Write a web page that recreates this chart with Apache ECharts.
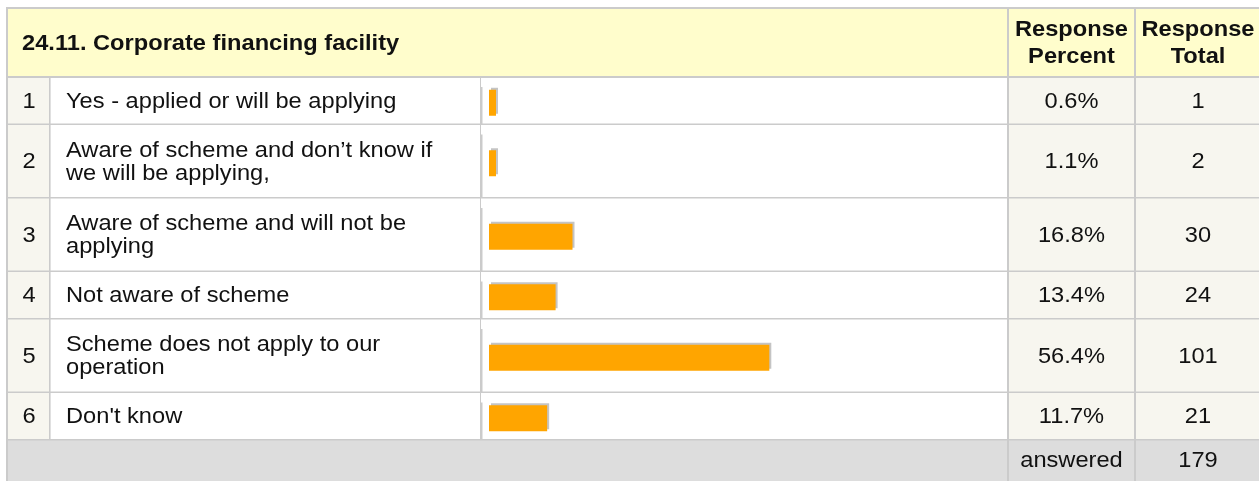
<!DOCTYPE html>
<html>
<head>
<meta charset="utf-8">
<script src="https://cdn.jsdelivr.net/npm/echarts@6/dist/echarts.min.js"></script>
<style>
html,body{margin:0;padding:0;background:#fff;}
#chart{width:1259px;height:481px;}
</style>
</head>
<body>
<div id="chart"></div>
<script>
// ---- data ----
const title = '24.11. Corporate financing facility';
const colHeaders = ['Response\nPercent', 'Response\nTotal'];
const categories = [
  'Yes - applied or will be applying',
  'Aware of scheme and don\u2019t know if\nwe will be applying,',
  'Aware of scheme and will not be\napplying',
  'Not aware of scheme',
  'Scheme does not apply to our\noperation',
  "Don't know"
];
const percents = [0.6, 1.1, 16.8, 13.4, 56.4, 11.7];
const totals = [1, 2, 30, 24, 101, 21];
const answeredLabel = 'answered';
const answeredTotal = 179;

// ---- layout ----
const W = 1259, H = 481;
const tableLeft = 6, tableTop = 7;
const headerBottom = 77;
const oneLineH = 47.5, twoLineH = 73.5;
const colNumR = 50, colLabelR = 481, colBarR = 1008, colPctR = 1135;
const barLeft = 489, barFull = 497;
const FS = 21.5, SX = 1.1;
const FONT = 'Liberation Sans, Arial, sans-serif';
const TXT = '#111';
const BORDER = '#cbcbcb';

const rowTops = [];
let yy = headerBottom;
categories.forEach(c => { rowTops.push(yy); yy += (c.indexOf('\n') >= 0 ? twoLineH : oneLineH); });
const rowBottoms = categories.map((c, i) => i < categories.length - 1 ? rowTops[i + 1] : yy);
const footerTop = yy;

const g = [];
function rect(x, y, w, h, fill, z) {
  g.push({ type: 'rect', silent: true, z: z || 0, shape: { x: x, y: y, width: w, height: h }, style: { fill: fill } });
}
function txt(x, y, s, o) {
  o = o || {};
  g.push({
    type: 'text', silent: true, z: 5, x: x, y: y, scaleX: SX,
    style: {
      text: s, fill: TXT, fontFamily: FONT, fontSize: o.fs || FS,
      fontWeight: o.bold ? 'bold' : 'normal',
      align: o.align || 'left', verticalAlign: 'middle',
      lineHeight: o.lh || 23
    }
  });
}

// backgrounds
rect(tableLeft, tableTop, W - tableLeft, headerBottom - tableTop, '#fffdcc');
rect(tableLeft, headerBottom, colNumR - tableLeft, footerTop - headerBottom, '#f7f6ef');
rect(colNumR, headerBottom, colBarR - colNumR, footerTop - headerBottom, '#ffffff');
rect(colBarR, headerBottom, W - colBarR, footerTop - headerBottom, '#f7f6ef');
rect(tableLeft, footerTop, W - tableLeft, H - footerTop, '#dddddd');

// borders
rect(tableLeft, tableTop, W - tableLeft, 2, BORDER, 1);
rect(tableLeft, tableTop, 2, H - tableTop, BORDER, 1);
rect(tableLeft, headerBottom - 1, W - tableLeft, 2, BORDER, 1);
rowBottoms.forEach(b => rect(tableLeft, b - 1, W - tableLeft, 1.6, BORDER, 1));
rect(colNumR - 1, headerBottom, 1.6, footerTop - headerBottom, BORDER, 1);
rect(colLabelR - 1, headerBottom, 1, footerTop - headerBottom, BORDER, 1);
rowTops.forEach((t, i) => rect(colLabelR, t + 10, 1.5, rowBottoms[i] - t - 10, BORDER, 1));
rect(colBarR - 1, tableTop, 2, H - tableTop, BORDER, 1);
rect(colPctR - 1, tableTop, 2, H - tableTop, BORDER, 1);

// header texts
txt(22, 44, title, { bold: true });
txt((colBarR + colPctR) / 2, 44, colHeaders[0], { bold: true, align: 'center', lh: 27 });
txt((colPctR + W) / 2 + 1, 44, colHeaders[1], { bold: true, align: 'center', lh: 27 });

// row texts
categories.forEach((c, i) => {
  const cy = (rowTops[i] + rowBottoms[i]) / 2 + 1;
  txt((tableLeft + colNumR) / 2 + 1, cy, String(i + 1), { align: 'center' });
  txt(66, cy, c, { lh: 23 });
  txt((colBarR + colPctR) / 2, cy, percents[i].toFixed(1) + '%', { align: 'center' });
  txt((colPctR + W) / 2 + 1, cy, String(totals[i]), { align: 'center' });
});
const fy = (footerTop + H) / 2 + 1;
txt((colBarR + colPctR) / 2, fy, answeredLabel, { align: 'center' });
txt((colPctR + W) / 2 + 1, fy, String(answeredTotal), { align: 'center' });

// bars: one grid per row
const grids = [], xAxes = [], yAxes = [], series = [];
categories.forEach((c, i) => {
  grids.push({ left: barLeft, width: barFull, top: rowTops[i] + 2, height: rowBottoms[i] - rowTops[i], containLabel: false });
  xAxes.push({ type: 'value', gridIndex: i, min: 0, max: 100, show: false });
  yAxes.push({ type: 'category', gridIndex: i, data: [c], show: false });
  series.push({
    type: 'bar', xAxisIndex: i, yAxisIndex: i, data: [percents[i]],
    barWidth: 26, barMinHeight: 7, silent: true, animation: false,
    itemStyle: { color: '#ffa500', shadowColor: '#c4c4c4', shadowOffsetX: 2, shadowOffsetY: -2, shadowBlur: 0 }
  });
});

const chart = echarts.init(document.getElementById('chart'), null, { renderer: 'canvas' });
chart.setOption({
  backgroundColor: '#ffffff',
  animation: false,
  grid: grids, xAxis: xAxes, yAxis: yAxes, series: series,
  graphic: { elements: g }
});
</script>
</body>
</html>
